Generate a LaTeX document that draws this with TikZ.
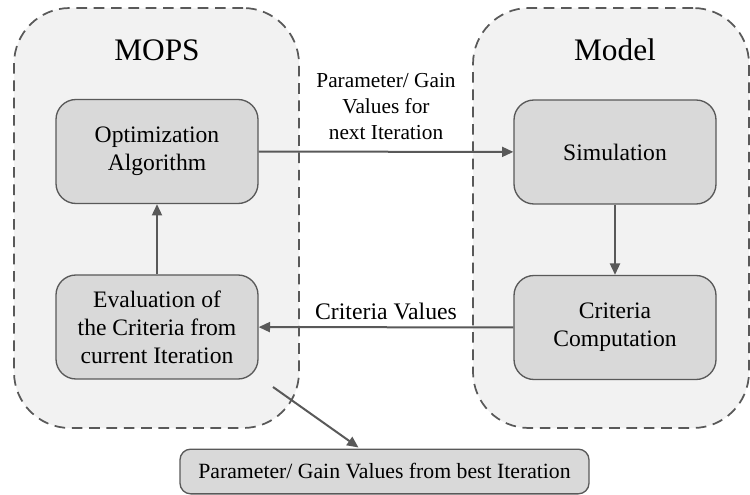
\documentclass[tikz,border=0pt]{standalone}
\usepackage{fontspec}
\setmainfont{Liberation Serif}
\usetikzlibrary{arrows.meta,positioning,calc}
\definecolor{grouparea}{RGB}{242,242,242}
\definecolor{boxfill}{RGB}{217,217,217}
\definecolor{edge}{RGB}{89,89,89}
\tikzset{
  group/.style={draw=edge, line width=1.3pt, dash pattern=on 8pt off 5pt,
    rounded corners=42pt, fill=grouparea, minimum width=#1, minimum height=315pt},
  title/.style={font=\fontsize{23.5}{28}\selectfont, text=black},
  block/.style={draw=edge, line width=1pt, rounded corners=15pt, fill=boxfill, align=center,
    minimum width=151.5pt, minimum height=78pt, font=\fontsize{17.7}{21}\selectfont},
  flow/.style={draw=edge, line width=1.5pt, -{Triangle[length=8.5pt, width=7.5pt]}},
  lbl/.style={align=center, font=\fontsize{16}{19.5}\selectfont}
}
\begin{document}
\begin{tikzpicture}[x=0.75pt, y=-0.75pt]
  \useasboundingbox (0,0) rectangle (750,495);
  % containers
  \node[group=213.75pt] (mops) at (156.5,218) {};
  \node[group=207pt] (model) at (611,218) {};
  \node[title] (mopstitle) at (157,50) {MOPS};
  \node[title] (modeltitle) at (615,50) {Model};

  % blocks
  \node[block] (opt) at (157,151.5) {Optimization\\Algorithm};
  \node[block] (eval) at (157,327) {Evaluation of\\the Criteria from\\current Iteration};
  \node[block] (sim) at (615,152) {Simulation};
  \node[block] (crit) at (615,327.5) {Criteria\\Computation};
  \node[block, rounded corners=8pt, minimum width=306.75pt, minimum height=33.5pt,
    font=\fontsize{16.3}{20}\selectfont] (best) at (384.5,471.5)
    {Parameter/ Gain Values from best Iteration};

  % flows
  \draw[flow] (opt) -- (sim);
  \draw[flow] (sim) -- (crit);
  \draw[flow] (crit) -- (eval);
  \draw[flow] (eval) -- (opt);
  \coordinate (evalout) at (273,387);
  \draw[flow] (evalout) -- ($(best.north)+(-26,-1)$);

  \node[lbl] (paramlbl) at (386,107) {Parameter/ Gain\\Values for\\next Iteration};
  \node[lbl, font=\fontsize{17.8}{21}\selectfont] (critlbl) at (386,311) {Criteria Values};
\end{tikzpicture}
\end{document}
